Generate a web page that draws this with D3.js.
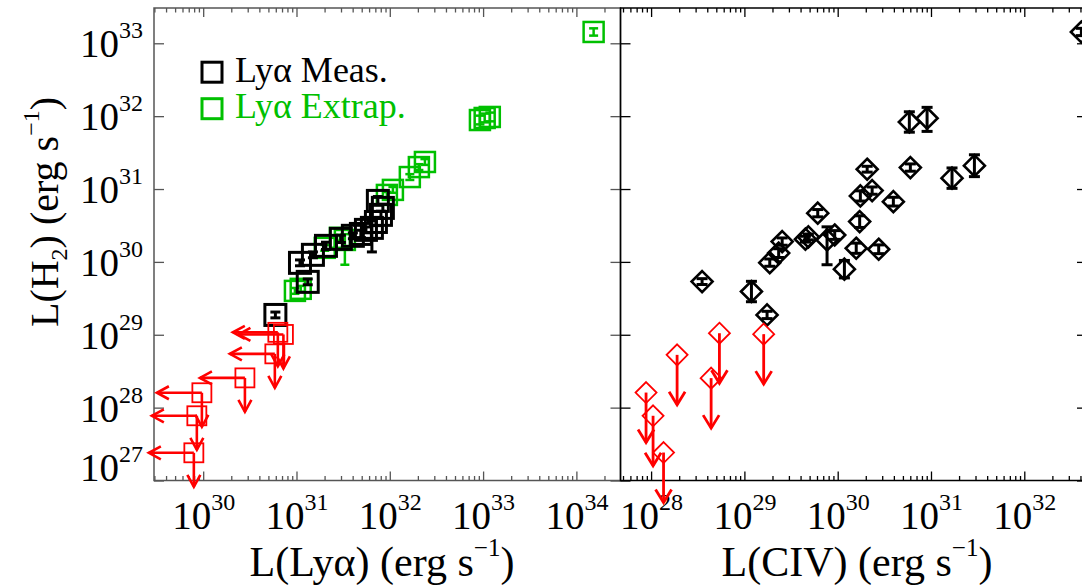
<!DOCTYPE html>
<html><head><meta charset="utf-8">
<script src="https://cdn.jsdelivr.net/npm/d3@7"></script>
<style>
body{margin:0;background:#fff}
svg{display:block}
text{font-family:"Liberation Serif","Times New Roman",serif}
</style>
</head><body>
<svg id="c" width="1082" height="585"></svg>
<script>
// ---------------- DATA ----------------
// Left panel: L(Lya) vs L(H2)
const measLya   = [5.94e30,1.32e31,1.09e31,1.50e31,2.07e31,2.99e31,4.02e31,4.90e31,6.43e31,7.45e31,8.04e31,8.43e31,7.10e31,5.55e31];
const measH2    = [1.87e29,5.32e29,9.70e29,1.25e30,1.66e30,2.07e30,2.28e30,2.42e30,2.93e30,6.87e30,4.42e30,5.51e30,3.53e30,2.75e30];
const measErrLo = [0.04,0.04,0.04,0.04,0.05,0.05,0.04,0.05,0.33,0.06,0.05,0.05,0.05,0.04]; // dex
const measErrHi = [0.04,0.04,0.04,0.04,0.05,0.05,0.04,0.05,0.10,0.06,0.05,0.05,0.05,0.04];

const extLya    = [1.53e34,9.25e32,1.04e33,1.18e33,2.05e32,2.38e32,1.64e32,1.08e32,9.31e31,3.30e31,2.92e31,2.01e31,9.62e30,1.11e31];
const extH2     = [1.43e33,8.85e31,9.44e31,9.75e31,2.00e31,2.35e31,1.46e31,9.73e30,8.30e30,2.00e30,2.14e30,1.56e30,4.00e29,4.27e29];
const extErrLo  = [0.05,0.06,0.06,0.06,0.04,0.04,0.04,0.04,0.04,0.34,0.04,0.04,0.04,0.04];
const extErrHi  = [0.05,0.06,0.06,0.06,0.04,0.04,0.04,0.04,0.04,0.08,0.04,0.04,0.04,0.04];

const limLya    = [6.31e30,7.24e30,5.86e30,2.80e30,9.68e29,8.55e29,7.94e29];
const limH2     = [1.08e29,1.01e29,5.47e28,2.56e28,1.60e28,7.73e27,2.40e27];

// Right panel: L(CIV) vs L(H2)
const civL      = [4.09e32,5.86e30,9.08e30,2.07e30,6.01e30,1.68e31,2.92e31,2.34e30,1.75e30,3.95e30,6.11e29,1.72e30,2.54e29,2.33e29,1.87e29,4.51e29,4.85e29,7.69e29,9.29e29,1.58e30,2.75e30,1.18e30,3.52e28,1.19e29,1.75e29];
const civH2     = [1.43e33,8.32e31,9.35e31,1.87e31,1.97e31,1.41e31,2.09e31,9.51e30,8.04e30,6.71e30,4.66e30,3.57e30,1.90e30,1.32e30,9.77e29,2.05e30,2.20e30,2.00e30,2.34e30,1.54e30,1.49e30,7.94e29,5.37e29,3.92e29,1.87e29];
const civErrLo  = [0.05,0.14,0.18,0.04,0.05,0.14,0.15,0.05,0.07,0.06,0.05,0.08,0.05,0.06,0.05,0.04,0.04,0.34,0.06,0.07,0.06,0.12,0.04,0.14,0.05];
const civErrHi  = [0.05,0.14,0.15,0.04,0.05,0.14,0.15,0.05,0.07,0.06,0.05,0.08,0.05,0.06,0.05,0.04,0.04,0.18,0.06,0.07,0.06,0.12,0.04,0.14,0.05];

const civLimL   = [8.83e27,1.05e28,1.36e28,1.90e28,4.40e28,5.40e28,1.61e29];
const civLimH2  = [1.61e28,7.73e27,2.42e27,5.30e28,2.54e28,1.05e29,1.02e29];

const yTicks     = [1e27,1e28,1e29,1e30,1e31,1e32,1e33];
const xTicksLeft = [1e30,1e31,1e32,1e33,1e34];
const xTicksRight= [1e28,1e29,1e30,1e31,1e32];
const legendLabels = ["Lyα Meas.","Lyα Extrap."];

// ---------------- LAYOUT ----------------
const TOP = 8, BOT = 480.5, L0 = 154, MID = 620.5, R1 = 1087;
const GREEN = "#00c000", RED = "#ff0000";
const svg = d3.select("#c");

const y  = d3.scaleLog().domain([1e27, 3.05e33]).range([BOT, TOP]);
const xL = d3.scaleLog().domain([2.97e29, 2.97e34]).range([L0, MID]);
const xR = d3.scaleLog().domain([4.7e27, 4.7e32]).range([MID, R1]);

function minors(scale){
  const [a,b] = scale.domain(); const out=[];
  for(let e=Math.floor(Math.log10(a)); e<=Math.ceil(Math.log10(b)); e++)
    for(let m=2;m<=9;m++){ const v=m*Math.pow(10,e); if(v>=a&&v<=b) out.push(v); }
  return out;
}
function supLabel(sel, big, small, raise){
  sel.each(function(d){
    const t=d3.select(this); t.text(null);
    t.append("tspan").text("10");
    t.append("tspan").attr("dy",-raise).attr("font-size",small).text(Math.round(Math.log10(d)));
  });
}

function panel(x, x0, x1, color, xTicks, leftLabels){
  const g = svg.append("g");
  const bMaj = g.append("g").attr("transform",`translate(0,${BOT})`)
    .call(d3.axisBottom(x).tickValues(xTicks).tickSize(-9).tickPadding(0));
  bMaj.select(".domain").remove();
  bMaj.selectAll(".tick line").attr("stroke",color).attr("stroke-width",1.3);
  bMaj.selectAll(".tick text").attr("fill","#000").attr("font-size",39).attr("y",48.5).attr("dy",0)
    .attr("font-family","Liberation Serif").attr("text-anchor","middle").call(supLabel,39,24,19);
  const bMin = g.append("g").attr("transform",`translate(0,${BOT})`)
    .call(d3.axisBottom(x).tickValues(minors(x)).tickSize(-4.5).tickFormat(""));
  bMin.select(".domain").remove();
  bMin.selectAll(".tick line").attr("stroke",color).attr("stroke-width",1.3);
  const tMaj = g.append("g").attr("transform",`translate(0,${TOP})`)
    .call(d3.axisTop(x).tickValues(xTicks).tickSize(-9).tickFormat(""));
  tMaj.select(".domain").remove();
  tMaj.selectAll(".tick line").attr("stroke",color).attr("stroke-width",1.3);
  const tMin = g.append("g").attr("transform",`translate(0,${TOP})`)
    .call(d3.axisTop(x).tickValues(minors(x)).tickSize(-4.5).tickFormat(""));
  tMin.select(".domain").remove();
  tMin.selectAll(".tick line").attr("stroke",color).attr("stroke-width",1.3);
  const yl = g.append("g").attr("transform",`translate(${x0},0)`)
    .call(d3.axisLeft(y).tickValues(yTicks).tickSize(-10).tickPadding(11));
  yl.select(".domain").remove();
  yl.selectAll(".tick line").attr("stroke",color).attr("stroke-width",1.3);
  if(leftLabels){
    yl.selectAll(".tick text").attr("fill","#000").attr("font-size",39).attr("dy",0)
      .attr("x",-11).attr("text-anchor","end")
      .attr("y",d=>Math.min(13.5, BOT - y(d)))
      .call(supLabel,39,24,19);
  } else yl.selectAll(".tick text").remove();
  const yr = g.append("g").attr("transform",`translate(${x1},0)`)
    .call(d3.axisRight(y).tickValues(yTicks).tickSize(-10).tickFormat(""));
  yr.select(".domain").remove();
  yr.selectAll(".tick line").attr("stroke",color).attr("stroke-width",1.3);
  g.append("rect").attr("x",x0).attr("y",TOP).attr("width",x1-x0).attr("height",BOT-TOP)
    .attr("fill","none").attr("stroke",color).attr("stroke-width",1.5);
  return g;
}

const gl = panel(xL, L0, MID, "#555", xTicksLeft, true);
const gr = panel(xR, MID, R1, "#000", xTicksRight, false);

function arrow(g, x1,y1,x2,y2, head, half, color, w){
  const dx=x2-x1, dy=y2-y1, len=Math.hypot(dx,dy), ux=dx/len, uy=dy/len;
  const bx=x2-ux*head, by=y2-uy*head;
  g.append("line").attr("x1",x1).attr("y1",y1).attr("x2",x2).attr("y2",y2)
    .attr("stroke",color).attr("stroke-width",w);
  g.append("path").attr("d",`M${bx-uy*half},${by+ux*half}L${x2},${y2}L${bx+uy*half},${by-ux*half}`)
    .attr("fill","none").attr("stroke",color).attr("stroke-width",w);
}
function vErr(g, cx, v, lo, hi, cap, color, w){
  const yl=y(v/Math.pow(10,lo)), yh=y(v*Math.pow(10,hi));
  g.append("line").attr("x1",cx).attr("x2",cx).attr("y1",yl).attr("y2",yh).attr("stroke",color).attr("stroke-width",w);
  [yl,yh].forEach(yy=>g.append("line").attr("x1",cx-cap/2).attr("x2",cx+cap/2).attr("y1",yy).attr("y2",yy)
    .attr("stroke",color).attr("stroke-width",w));
}

// ---------- left panel marks ----------
const ext = extLya.map((v,i)=>({x:v,y:extH2[i],lo:extErrLo[i],hi:extErrHi[i]}));
const meas = measLya.map((v,i)=>({x:v,y:measH2[i],lo:measErrLo[i],hi:measErrHi[i]}));
const lims = limLya.map((v,i)=>({x:v,y:limH2[i]}));

const gExt = svg.append("g");
ext.forEach(d=>vErr(gExt, xL(d.x), d.y, d.lo, d.hi, 9, GREEN, 2.5));
gExt.selectAll("rect").data(ext).join("rect")
  .attr("x",d=>xL(d.x)-10).attr("y",d=>y(d.y)-10).attr("width",20).attr("height",20)
  .attr("fill","none").attr("stroke",GREEN).attr("stroke-width",2.5);

const gMeas = svg.append("g");
meas.forEach(d=>vErr(gMeas, xL(d.x), d.y, d.lo, d.hi, 10, "#000", 3));
gMeas.selectAll("rect").data(meas).join("rect")
  .attr("x",d=>xL(d.x)-10.5).attr("y",d=>y(d.y)-10.5).attr("width",21).attr("height",21)
  .attr("fill","none").attr("stroke","#000").attr("stroke-width",3);

const gLim = svg.append("g");
gLim.selectAll("rect").data(lims).join("rect")
  .attr("x",d=>xL(d.x)-9.5).attr("y",d=>y(d.y)-9.5).attr("width",19).attr("height",19)
  .attr("fill","none").attr("stroke",RED).attr("stroke-width",1.8);
lims.forEach(d=>{
  const cx=xL(d.x), cy=y(d.y);
  arrow(gLim, cx, cy, cx-45, cy, 12, 6.5, RED, 2.6);
  arrow(gLim, cx, cy, cx, cy+34, 12, 6.5, RED, 2.6);
});

// legend
const lg = svg.append("g");
[["#000",72.2,81.5],[GREEN,108.7,118]].forEach((c,i)=>{
  lg.append("rect").attr("x",202).attr("y",c[1]-10).attr("width",20).attr("height",20)
    .attr("fill","none").attr("stroke",c[0]).attr("stroke-width",3);
  lg.append("text").attr("x",235).attr("y",c[2]).attr("font-size",36).attr("fill",c[0]).text(legendLabels[i]);
});

// ---------- right panel marks ----------
const civ = civL.map((v,i)=>({x:v,y:civH2[i],lo:civErrLo[i],hi:civErrHi[i]}));
const civLim = civLimL.map((v,i)=>({x:v,y:civLimH2[i]}));
const gCiv = svg.append("g");
const D = 10.5;
gCiv.selectAll("path.dm").data(civ).join("path").attr("class","dm")
  .attr("d",d=>{const cx=xR(d.x), cy=y(d.y); return `M${cx},${cy-D}L${cx+D},${cy}L${cx},${cy+D}L${cx-D},${cy}Z`;})
  .attr("fill","none").attr("stroke","#000").attr("stroke-width",2.6);
civ.forEach(d=>vErr(gCiv, xR(d.x), d.y, d.lo, d.hi, 11, "#000", 3));

const gCivLim = svg.append("g");
gCivLim.selectAll("path.dm").data(civLim).join("path").attr("class","dm")
  .attr("d",d=>{const cx=xR(d.x), cy=y(d.y); return `M${cx},${cy-D}L${cx+D},${cy}L${cx},${cy+D}L${cx-D},${cy}Z`;})
  .attr("fill","none").attr("stroke",RED).attr("stroke-width",1.8);
civLim.forEach(d=>{
  const cx=xR(d.x), cy=y(d.y);
  arrow(gCivLim, cx, cy, cx, cy+50, 13, 8, RED, 2.8);
});

// ---------- axis titles ----------
function title(x0, y0, size, parts, rot){
  const t = svg.append("text").attr("font-size",size).attr("text-anchor","middle")
    .attr("transform",`translate(${x0},${y0})${rot?" rotate(-90)":""}`);
  parts.forEach(p=>{
    const s=t.append("tspan").text(p[0]);
    if(p[1]) s.attr("dy",p[1]);
    if(p[2]) s.attr("font-size",p[2]);
  });
}
title(382, 576, 42, [["L(Lyα) (erg s"],["−1",-20,25],[")",20]]);
title(857, 576, 42, [["L(CIV) (erg s"],["−1",-20,25],[")",20]]);
title(58, 212, 40, [["L(H"],["2",9,24],[") (erg s",-9],["−1",-19,24],[")",19]], true);
</script>
</body></html>
